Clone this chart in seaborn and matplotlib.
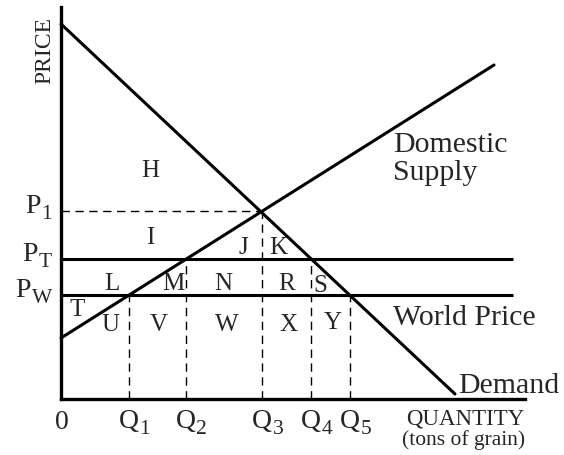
import matplotlib
matplotlib.use("Agg")
import matplotlib.pyplot as plt
import seaborn as sns
import pandas as pd

# curves (quantity, price)
demand_q = [0, 394]
demand_p = [375, 5]
supply_q = [0, 433]
supply_p = [61, 334]

# price levels and quantities
price_subs = ["1", "T", "W"]
price_vals = [188, 140, 104]
qty_subs = ["1", "2", "3", "4", "5"]
qty_vals = [68, 125, 201, 250, 289]
qty_tops = [104, 140, 188, 140, 104]
line_end = 452

# area letters
area_labels = ["H", "I", "J", "K", "L", "M", "N", "R", "S",
               "T", "U", "V", "W", "X", "Y"]
area_x = [89, 89, 182, 217, 51, 112, 162, 226, 259,
          16, 49, 98, 166, 227, 272]
area_y = [229, 162, 152, 152, 116, 116, 116, 116, 114,
          90, 75, 75, 75, 75, 77]

sns.set_style("white")
plt.rcParams["font.family"] = ["Liberation Serif", "DejaVu Serif"]

fig = plt.figure(figsize=(5.64, 4.56), dpi=100)
ax = fig.add_axes([61 / 564, 56 / 456, 464 / 564, 392 / 456])

curves = pd.DataFrame({
    "q": demand_q + supply_q,
    "p": demand_p + supply_p,
    "curve": ["Demand"] * 2 + ["Supply"] * 2,
})
sns.lineplot(data=curves, x="q", y="p", units="curve", estimator=None,
             color="black", lw=2.2, ax=ax, clip_on=False)

# tariff and world price lines
ax.hlines(price_vals[1:], 0, line_end, color="black", lw=2.2)
# dashed guides
ax.hlines(price_vals[0], 0, qty_vals[2], color="black", lw=1,
          linestyles=(0, (6, 4)))
ax.vlines(qty_vals, 0, qty_tops, color="black", lw=1, linestyles=(0, (6, 4)))

ax.set_xlim(0, 464)
ax.set_ylim(0, 392)
ax.set_xticks([])
ax.set_yticks([])
ax.set_xlabel("")
ax.set_ylabel("")
for side in ["top", "right"]:
    ax.spines[side].set_visible(False)
for side in ["left", "bottom"]:
    ax.spines[side].set_linewidth(2.4)
    ax.spines[side].set_color("black")

fs = 20
sub_fs = 15.5
drop = -4.5

# P labels: subscript right aligned, letter put to its left
for sub, v in zip(price_subs, price_vals):
    base = v - 1
    s = ax.annotate(sub, xy=(-9, base), xycoords="data", xytext=(0, drop),
                    textcoords="offset points", ha="right", va="baseline",
                    fontsize=sub_fs, annotation_clip=False)
    ax.annotate("P", xy=(0, base), xycoords=(s, "data"), xytext=(-0.5, 0),
                textcoords="offset points", ha="right", va="baseline",
                fontsize=fs, annotation_clip=False)

# Q labels: letter centred on the guide, subscript hanging right
for sub, q in zip(qty_subs, qty_vals):
    base = -28
    m = ax.text(q, base, "Q", ha="center", va="baseline", fontsize=fs,
                clip_on=False)
    ax.annotate(sub, xy=(1, base), xycoords=(m, "data"), xytext=(0.3, drop),
                textcoords="offset points", ha="left", va="baseline",
                fontsize=sub_fs, annotation_clip=False)
ax.text(1, -29, "0", ha="center", va="baseline", fontsize=fs)

for lab, x, y in zip(area_labels, area_x, area_y):
    ax.text(x, y, lab, ha="center", va="center", fontsize=18)

ax.text(-16, 349, "PRICE", rotation=90, ha="center", va="center", fontsize=17)
ax.text(463, -25, "QUANTITY", ha="right", va="baseline", fontsize=16.5)
ax.text(464, -45, "(tons of grain)", ha="right", va="baseline", fontsize=15.5)
ax.text(332, 248, "Domestic", ha="left", va="baseline", fontsize=21.5)
ax.text(332, 220, "Supply", ha="left", va="baseline", fontsize=21.5)
ax.text(332, 75, "World Price", ha="left", va="baseline", fontsize=21.5)
ax.text(397, 7, "Demand", ha="left", va="baseline", fontsize=21.5)

fig.savefig("out.png", dpi=100)
